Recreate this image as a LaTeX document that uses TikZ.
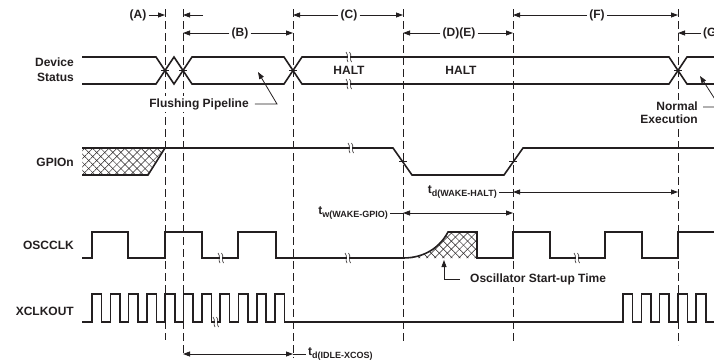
\documentclass[tikz,border=0pt]{standalone}
\usepackage{fontspec}
\setmainfont{Liberation Sans}
\usetikzlibrary{arrows.meta,patterns.meta}
\definecolor{ink}{HTML}{231F20}
\tikzset{
  sig/.style={ink, line width=1.6pt},
  guide/.style={ink, line width=0.8pt, dash pattern=on 8pt off 4pt},
  thinln/.style={ink, line width=0.8pt},
  dim/.style={thinln, -{Triangle[length=7pt,width=5pt]}},
  dimboth/.style={thinln, {Triangle[length=7pt,width=5pt]}-{Triangle[length=7pt,width=5pt]}},
  lbl/.style={text=ink, font=\fontsize{12}{15}\selectfont\bfseries, inner sep=2pt},
  hatchA/.style={pattern={Lines[angle=45,distance=5.7pt,line width=0.5pt]}, pattern color=ink},
  hatchB/.style={pattern={Lines[angle=-45,distance=5.7pt,line width=0.5pt]}, pattern color=ink},
}
\newcommand{\brk}[2]{%
  \fill[white] (#1-0.5,#2-3) rectangle (#1+2,#2+3);
  \draw[ink, line width=0.6pt] (#1-2,#2-5) .. controls (#1+1,#2-2) and (#1-2.5,#2+2) .. (#1,#2+5);
  \draw[ink, line width=0.6pt] (#1+1.5,#2-5) .. controls (#1+4.5,#2-2) and (#1+1,#2+2) .. (#1+3.5,#2+5);
}
\newcommand{\tsub}[2]{#1\raisebox{-3pt}{\fontsize{9}{9}\selectfont #2}}
\begin{document}
\begin{tikzpicture}[x=1pt,y=-1pt]
\useasboundingbox (0,0) rectangle (714,362);
\clip (0,0) rectangle (714,362);
\coordinate (g1) at (165,0);
\coordinate (g2) at (183,0);
\coordinate (g3) at (293,0);
\coordinate (g4) at (403,0);
\coordinate (g5) at (513,0);
\coordinate (g6) at (678,0);
\draw[guide] (165,9) -- (165,340);
\draw[guide] (183,9) -- (183,356);
\draw[guide] (293,9) -- (293,358);
\draw[guide] (403,9) -- (403,342);
\draw[guide] (513,9) -- (513,343);
\draw[guide] (678,9) -- (678,345);
\node[lbl, align=right, anchor=east] (dev) at (76,70) {Device\\Status};
\node[lbl, anchor=east] (gpio) at (76,162) {GPIOn};
\node[lbl, anchor=east] (osc) at (76,245) {OSCCLK};
\node[lbl, anchor=east] (xclk) at (76,311) {XCLKOUT};
\draw[sig] (82,57) -- (156,57) -- (174,84) -- (192,57) -- (284,57) -- (302,84) -- (669,84) -- (687,57) -- (714,57);
\draw[sig] (82,84) -- (156,84) -- (174,57) -- (192,84) -- (284,84) -- (302,57) -- (669,57) -- (687,84) -- (714,84);
\node[lbl] (halt1) at (349,70) {HALT};
\node[lbl] (halt2) at (461,70) {HALT};
\fill[hatchA] (82,148) -- (165,148) -- (148,175) -- (82,175) -- cycle;
\fill[hatchB] (82,148) -- (165,148) -- (148,175) -- (82,175) -- cycle;
\draw[sig] (82,148) -- (393,148) -- (412,175) -- (504,175) -- (523,148) -- (714,148);
\draw[sig] (82,175) -- (148,175) -- (165,148);
\fill[hatchA] (403,258) .. controls (425,258) and (440,247) .. (448,232) -- (477,232) -- (477,258) -- cycle;
\fill[hatchB] (403,258) .. controls (425,258) and (440,247) .. (448,232) -- (477,232) -- (477,258) -- cycle;
\draw[sig] (82,258) -- (92,258) -- (92,232) -- (128,232) -- (128,258) -- (165,258) -- (165,232) -- (202,232) -- (202,258)
  -- (238,258) -- (238,232) -- (276,232) -- (276,258) -- (403,258) .. controls (425,258) and (440,247) .. (448,232)
  -- (477,232) -- (477,258) -- (513,258) -- (513,232) -- (550,232) -- (550,258) -- (605,258) -- (605,232)
  -- (642,232) -- (642,258) -- (678,258) -- (678,232) -- (714,232);
\draw[sig] (82,322) foreach \k in {0,...,10} { -- ({92+18.3*\k},322) -- ++(0,-28) -- ++(9.5,0) -- ++(0,28) }
  -- (623,322) foreach \k in {0,...,4} { -- ({623+18.3*\k},322) -- ++(0,-28) -- ++(9.5,0) -- ++(0,28) } -- (714,322);
\foreach \x/\y in {165/70.5, 183/70.5, 293/70.5, 678/70.5, 403/161.5, 513/161.5}
  \draw[thinln] (\x-4,\y) -- (\x+4,\y);
\brk{348}{57}
\brk{348}{84}
\brk{350}{148}
\brk{220}{258}
\brk{347}{258}
\brk{576}{258}
\brk{215}{322}
\node[lbl] (labA) at (138,15) {(A)};
\coordinate (aR) at (203,15);
\draw[dim] (labA.east) -- (g1 |- labA);
\draw[dim] (aR) -- (g2 |- labA);
\node[lbl] (labB) at (240,33) {(B)};
\draw[dim] (labB.west) -- (g2 |- labB);
\draw[dim] (labB.east) -- (g3 |- labB);
\node[lbl] (labC) at (349,15) {(C)};
\draw[dim] (labC.west) -- (g3 |- labC);
\draw[dim] (labC.east) -- (g4 |- labC);
\node[lbl] (labD) at (459,33) {(D)(E)};
\draw[dim] (labD.west) -- (g4 |- labD);
\draw[dim] (labD.east) -- (g5 |- labD);
\node[lbl] (labF) at (597,15) {(F)};
\draw[dim] (labF.west) -- (g5 |- labF);
\draw[dim] (labF.east) -- (g6 |- labF);
\node[lbl, anchor=west] (labG) at (701,33) {(G)};
\draw[dim] (labG.west) -- (g6 |- labG);
\node[lbl, fill=white] (flush) at (199,104) {Flushing Pipeline};
\draw[dim] ([xshift=4pt]flush.east) -- (277,104) -- (258,72);
\node[lbl, fill=white, align=right, anchor=east] (norm) at (700,113) {Normal\\[-2pt]Execution};
\draw[dim] ([shift={(3,-6)}]norm.east) -- ++(17,0) -- (700,76);
\node[lbl, fill=white, anchor=west] (start) at (468,279) {Oscillator Start-up Time};
\draw[dim] ([xshift=-8pt]start.west) -- (444,279) -- (444,260);
\node[lbl, anchor=east] (twh) at (499,192) {\tsub{t}{d(WAKE-HALT)}};
\draw[thinln] (twh.east) -- (g5 |- twh);
\draw[dimboth] (g5 |- twh) -- (g6 |- twh);
\node[lbl, anchor=east] (twg) at (390,213) {\tsub{t}{w(WAKE-GPIO)}};
\draw[thinln] (twg.east) -- (g4 |- twg);
\draw[dimboth] (g4 |- twg) -- (g5 |- twg);
\node[lbl, anchor=west] (tix) at (306,354) {\tsub{t}{d(IDLE-XCOS)}};
\draw[dimboth] (g2 |- tix) -- (g3 |- tix);
\draw[thinln] (g3 |- tix) -- (tix.west);
\end{tikzpicture}
\end{document}
